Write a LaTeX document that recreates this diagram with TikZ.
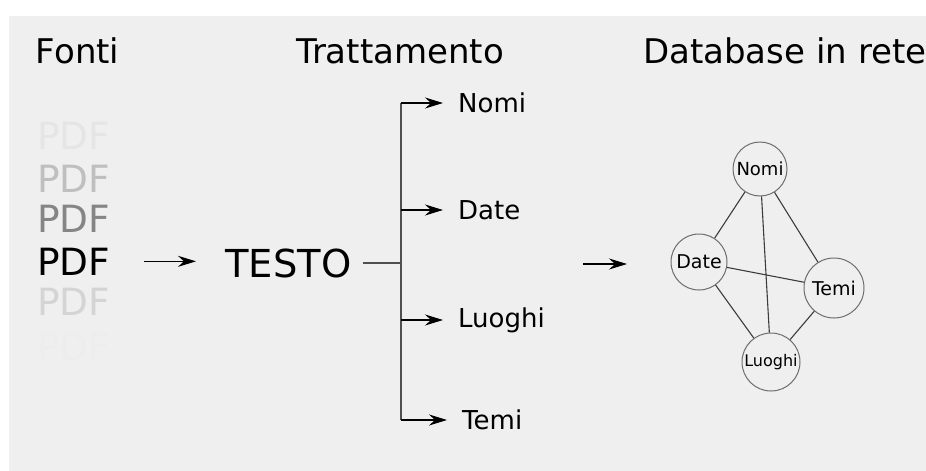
\documentclass[tikz,border=0pt]{standalone}
\usepackage{fontspec}
\setmainfont{DejaVu Sans}
\usetikzlibrary{arrows.meta}
\definecolor{sfondo}{HTML}{EFEFEF}
\definecolor{linea}{HTML}{3C3C3C}
\tikzset{
  titolo/.style={anchor=base west,inner sep=0pt,font=\fontsize{34}{40}\selectfont},
  pdf/.style={anchor=base west,inner sep=0pt,font=\fontsize{37.5}{42}\selectfont},
  voce/.style={anchor=west,inner sep=0pt,font=\fontsize{26}{30}\selectfont},
  freccia/.style={line width=1.4pt,draw=black,-{Stealth[length=18pt,width=11pt,inset=6pt]}},
  ramo/.style={line width=1.5pt,draw=linea!90},
  nodo/.style={circle,draw=linea!75,line width=1pt,inner sep=0pt},
  arco/.style={line width=1.1pt,draw=linea}
}
\begin{document}
\begin{tikzpicture}[x=1pt,y=-1pt]
\useasboundingbox (0,0) rectangle (926,471);
\fill[sfondo] (9,16) rectangle (926,471);

\node[titolo] (fonti) at (35.7,63) {Fonti};
\node[titolo] (tratt) at (296,63) {Trattamento};
\node[titolo] (rete) at (643,63) {Database in rete};

\node[pdf,text=black!10] (pdf1) at (37,149) {PDF};
\node[pdf,text=black!25] (pdf2) at (37,192) {PDF};
\node[pdf,text=black!48] (pdf3) at (37,232) {PDF};
\node[pdf,text=black] (pdf) at (37,275) {PDF};
\node[pdf,text=black!17] (pdf5) at (37,315) {PDF};
\node[pdf,text=black!7] (pdf6) at (37,360) {PDF};

\node[pdf,font=\fontsize{38.5}{42}\selectfont] (testo) at (225,277) {TESTO};
\draw[freccia,shorten <=34pt,shorten >=29pt] (pdf.east) -- (pdf.east -| testo.west);

\coordinate (split) at (401,263);
\node[voce] (nomi) at (458,103) {Nomi};
\node[voce] (date) at (458,210) {Date};
\node[voce] (luoghi) at (458,320) {Luoghi};
\node[voce] (temi) at (462,420) {Temi};
\draw[ramo] ([xshift=11pt]testo.east |- split) -- (split);
\draw[ramo] (split |- nomi.west) -- (split |- temi.west);
\foreach \v in {nomi,date,luoghi,temi}
  \draw[freccia,shorten >=15pt] (split |- \v.west) -- (\v.west);

\coordinate (m1) at (583,264);
\draw[freccia] (m1) -- ++(44,0);

\node[nodo,minimum size=54pt,font=\fontsize{18}{20}\selectfont] (gnomi) at (760,169) {Nomi};
\node[nodo,minimum size=56pt,font=\fontsize{19}{20}\selectfont] (gdate) at (699,262) {Date};
\node[nodo,minimum size=60pt,font=\fontsize{19}{20}\selectfont] (gtemi) at (834,288) {Temi};
\node[nodo,minimum size=58pt,font=\fontsize{16}{20}\selectfont] (gluoghi) at (771,362) {Luoghi};
\draw[arco] (gnomi) -- (gdate);
\draw[arco] (gnomi) -- (gtemi);
\draw[arco] (gnomi) -- (gluoghi);
\draw[arco] (gdate) -- (gtemi);
\draw[arco] (gdate) -- (gluoghi);
\draw[arco] (gtemi) -- (gluoghi);
\end{tikzpicture}
\end{document}
